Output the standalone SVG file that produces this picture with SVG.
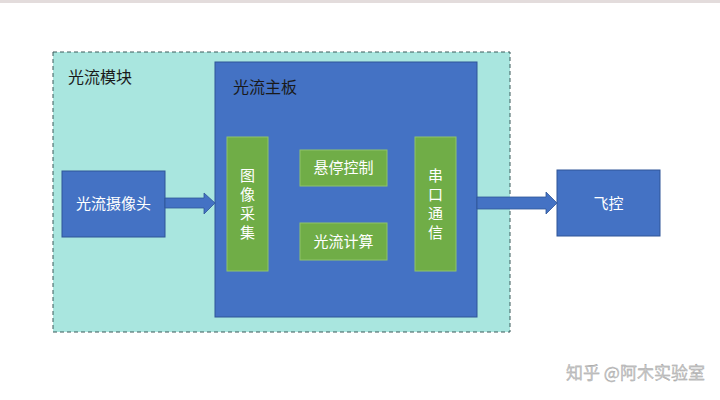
<svg xmlns="http://www.w3.org/2000/svg" width="720" height="400" viewBox="0 0 720 400">
<style>
text{font-family:"Noto Sans CJK SC","Liberation Sans",sans-serif;}
.blue{fill:#4472c4;stroke:#2f5597;stroke-width:1;}
.green{fill:#70ad47;stroke:#8fc36a;stroke-width:1;}
.wt{fill:#ffffff;font-size:15px;text-anchor:middle;}
.dk{fill:#1a1a1a;font-size:16px;}
.arrow{fill:#4472c4;stroke:#2f5597;stroke-width:0.8;}
</style>
<rect x="0" y="0" width="720" height="400" fill="#ffffff"/>
<rect x="0" y="0" width="720" height="3" fill="#e3dcdc"/>
<g id="module">
<rect x="53" y="52" width="457" height="280" fill="#a9e6df" stroke="#3b5a5a" stroke-width="1" stroke-dasharray="4,3"/>
<text class="dk" x="68" y="83">光流模块</text>
</g>
<g id="board">
<rect class="blue" x="215" y="62" width="262" height="255"/>
<text class="dk" x="233" y="93">光流主板</text>
</g>
<g id="camera">
<rect class="blue" x="62" y="171" width="103" height="66"/>
<text class="wt" x="113.5" y="209" font-size="16">光流摄像头</text>
</g>
<g id="capture">
<rect class="green" x="227" y="137" width="41" height="134"/>
<text class="wt" x="247.5" y="181" font-size="16">图</text>
<text class="wt" x="247.5" y="200" font-size="16">像</text>
<text class="wt" x="247.5" y="219" font-size="16">采</text>
<text class="wt" x="247.5" y="238" font-size="16">集</text>
</g>
<g id="hover">
<rect class="green" x="300" y="150" width="87" height="36"/>
<text class="wt" x="343.5" y="173">悬停控制</text>
</g>
<g id="flowcalc">
<rect class="green" x="300" y="223" width="87" height="37"/>
<text class="wt" x="343.5" y="247">光流计算</text>
</g>
<g id="serial">
<rect class="green" x="415" y="137" width="41" height="134"/>
<text class="wt" x="435.5" y="181" font-size="16">串</text>
<text class="wt" x="435.5" y="200" font-size="16">口</text>
<text class="wt" x="435.5" y="219" font-size="16">通</text>
<text class="wt" x="435.5" y="238" font-size="16">信</text>
</g>
<g id="fc">
<rect class="blue" x="557" y="170" width="103" height="66"/>
<text class="wt" x="608.5" y="209" font-size="16">飞控</text>
</g>
<g id="connectors">
<polygon class="arrow" points="165,198 204,198 204,193 215,203 204,214 204,208 165,208"/>
<polygon class="arrow" points="477,197 546,197 546,192 557,203 546,214 546,209 477,209"/>
</g>
<text x="566" y="379" font-size="17" fill="#c8c8c8" stroke="#9a9a9a" stroke-width="0.3">知乎 @阿木实验室</text>
</svg>
